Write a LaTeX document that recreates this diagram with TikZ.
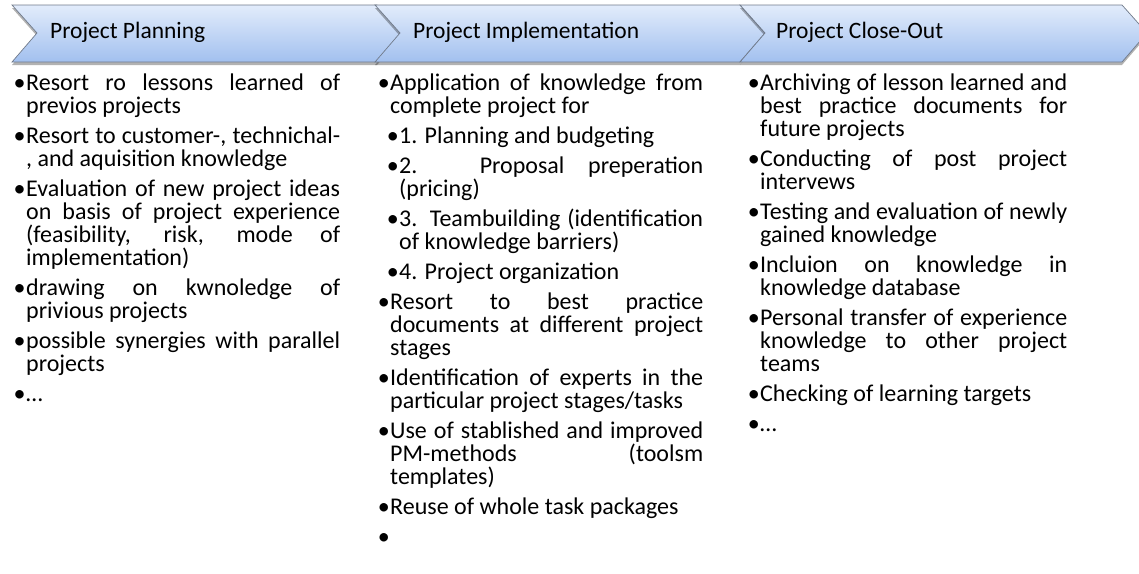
\documentclass[tikz,border=0pt]{standalone}
\usepackage{fontspec}
\setmainfont{Carlito}
\usetikzlibrary{shadows}

\definecolor{chevtop}{RGB}{226,236,251}
\definecolor{chevbot}{RGB}{162,192,239}
\definecolor{chevline}{RGB}{112,122,138}

% line builders for the bullet columns
\newdimen\subind \subind=9pt
\newcommand\bul{\llap{\textbullet\hskip0.5pt}}
\newcommand\BJ[1]{\hbox to \hsize{\bul#1}}
\newcommand\BN[1]{\hbox{\bul#1}}
\newcommand\CJ[1]{\hbox to \hsize{#1}}
\newcommand\CN[1]{\hbox{#1}}
\newcommand\SJ[1]{\moveright\subind\hbox to \dimexpr\hsize-\subind\relax{\bul#1}}
\newcommand\SN[1]{\moveright\subind\hbox{\bul#1}}
\newcommand\TN[1]{\moveright\subind\hbox{#1}}
\newcommand\gap{\vskip7pt}
\newcommand\colbox[2]{\vtop{\hsize=#1\relax\fontsize{24}{23}\selectfont\baselineskip=23pt\lineskiplimit=-20pt #2}}

\tikzset{
  chev/.style={draw=chevline, line width=0.7pt, top color=chevtop, bottom color=chevbot,
    drop shadow={shadow xshift=0pt, shadow yshift=-3pt, opacity=0.3, fill=black}},
  chevlabel/.style={anchor=base west, inner sep=0pt, font=\fontsize{23.5}{23}\selectfont},
  column/.style={anchor=base west, inner sep=0pt}
}

\begin{document}
\begin{tikzpicture}[x=1pt, y=-1pt]
\useasboundingbox (0,0) rectangle (1139,573);

% process chevrons
\path[chev] (12,5) -- (377,5) -- (402,33) -- (377,62) -- (12,62) -- (37,33) -- cycle;
\path[chev] (375,5) -- (740,5) -- (765,33) -- (740,62) -- (375,62) -- (400,33) -- cycle;
\path[chev] (740,5) -- (1122,5) -- (1147,33) -- (1122,62) -- (740,62) -- (765,33) -- cycle;

\node[chevlabel] (h1) at (50,38) {Project Planning};
\node[chevlabel] (h2) at (413,38) {Project Implementation};
\node[chevlabel] (h3) at (776,38) {Project Close-Out};

% planning
\node[column] (c1) at (26,90) {\colbox{314pt}{%
\BJ{Resort ro lessons learned of}
\CN{previos projects}
\gap
\BJ{Resort to customer-, technichal-}
\CN{, and aquisition knowledge}
\gap
\BJ{Evaluation of new project ideas}
\CJ{on basis of project experience}
\CJ{(feasibility, risk, mode of}
\CN{implementation)}
\gap
\BJ{drawing on kwnoledge of}
\CN{privious projects}
\gap
\BJ{possible synergies with parallel}
\CN{projects}
\gap
\BN{…}}};

% implementation
\node[column] (c2) at (390,90) {\colbox{313pt}{%
\BJ{Application of knowledge from}
\CN{complete project for}
\gap
\SN{1. Planning and budgeting}
\gap
\SJ{2. Proposal preperation}
\TN{(pricing)}
\gap
\SJ{3. Teambuilding (identification}
\TN{of knowledge barriers)}
\gap
\SN{4. Project organization}
\gap
\BJ{Resort to best practice}
\CJ{documents at different project}
\CN{stages}
\gap
\BJ{Identification of experts in the}
\CN{particular project stages/tasks}
\gap
\BJ{Use of stablished and improved}
\CJ{PM-methods (toolsm}
\CN{templates)}
\gap
\BN{Reuse of whole task packages}
\gap
\BN{\strut}}};

% close-out
\node[column] (c3) at (760,90) {\colbox{307pt}{%
\BJ{Archiving of lesson learned and}
\CJ{best practice documents for}
\CN{future projects}
\gap
\BJ{Conducting of post project}
\CN{intervews}
\gap
\BJ{Testing and evaluation of newly}
\CN{gained knowledge}
\gap
\BJ{Incluion on knowledge in}
\CN{knowledge database}
\gap
\BJ{Personal transfer of experience}
\CJ{knowledge to other project}
\CN{teams}
\gap
\BN{Checking of learning targets}
\gap
\BN{…}}};
\end{tikzpicture}
\end{document}
